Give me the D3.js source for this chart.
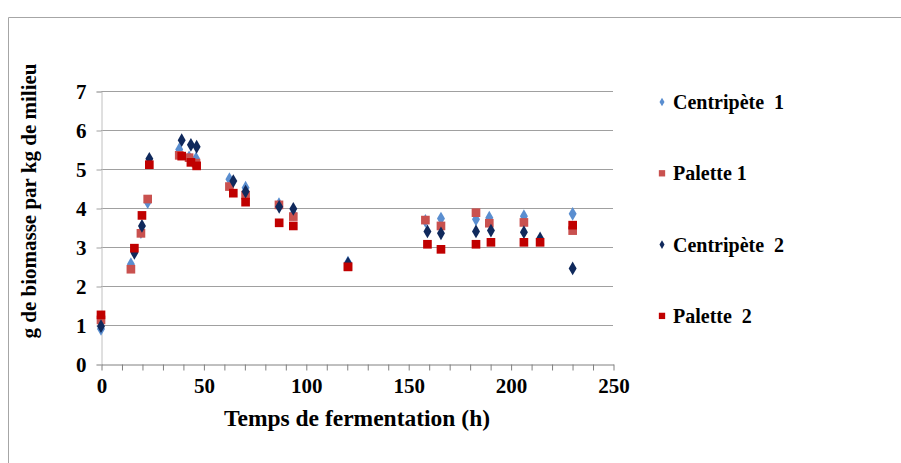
<!DOCTYPE html>
<html>
<head>
<meta charset="utf-8">
<script src="https://cdn.jsdelivr.net/npm/d3@7"></script>
<style>
  body { margin: 0; background: #fff; }
</style>
</head>
<body>
<svg id="chart" width="901" height="463"></svg>
<script>
var serif = "'Liberation Serif', 'DejaVu Serif', serif";

// sampling times (h) for the two runs
var timesRun1 = [0, 14.6, 19.5, 22.8, 38.2, 43, 46.4, 62.7, 70.6, 86.9, 93.9, 120.6, 158.4, 166, 183.1, 189.6, 206.5, 230.3];
var timesRun2 = [0, 16.3, 20, 23.6, 39.4, 43.9, 46.7, 64.6, 70.6, 87, 93.9, 120.6, 159.4, 166, 183.1, 190.4, 206.5, 214.4, 230.3];

var centripete1 = [0.9, 2.56, 3.38, 4.15, 5.5, 5.3, 5.27, 4.74, 4.52, 4.1, 3.85, 2.6, 3.67, 3.73, 3.71, 3.75, 3.79, 3.85];
var palette1    = [1.13, 2.43, 3.35, 4.23, 5.35, 5.29, 5.15, 4.55, 4.33, 4.08, 3.78, 2.5, 3.69, 3.54, 3.88, 3.61, 3.63, 3.42];
var centripete2 = [0.97, 2.85, 3.54, 5.26, 5.74, 5.62, 5.57, 4.69, 4.42, 4.03, 3.98, 2.58, 3.4, 3.35, 3.4, 3.42, 3.38, 3.22, 2.45];
var palette2    = [1.26, 2.97, 3.81, 5.11, 5.33, 5.17, 5.08, 4.38, 4.15, 3.62, 3.54, 2.49, 3.07, 2.94, 3.07, 3.12, 3.12, 3.12, 3.56];

var seriesNames = ["Centripète  1", "Palette 1", "Centripète  2", "Palette  2"];
var xTicks = [0, 50, 100, 150, 200, 250];
var yTicks = [0, 1, 2, 3, 4, 5, 6, 7];

var series = [
  {name: seriesNames[0], t: timesRun1, v: centripete1, color: "#5a8ed0", shape: "diamond"},
  {name: seriesNames[1], t: timesRun1, v: palette1,    color: "#c9514f", shape: "square"},
  {name: seriesNames[2], t: timesRun2, v: centripete2, color: "#10295c", shape: "diamond"},
  {name: seriesNames[3], t: timesRun2, v: palette2,    color: "#c00000", shape: "square"}
];

var svg = d3.select("#chart");

// outer frame
svg.append("path")
    .attr("d", "M8.5,463V17.5H901")
    .attr("fill", "none")
    .attr("stroke", "#a6a6a6");

var x = d3.scaleLinear().domain([0, 250]).range([101, 613]);
var y = d3.scaleLinear().domain([0, 7]).range([364, 91]);

// gridlines
svg.append("g")
  .selectAll("line")
  .data(yTicks.slice(1))
  .enter().append("line")
    .attr("x1", x(0)).attr("x2", x(250))
    .attr("y1", function(d) { return Math.round(y(d)) + 0.5; })
    .attr("y2", function(d) { return Math.round(y(d)) + 0.5; })
    .attr("stroke", "#a0a0a0");

// y axis
var yAxis = svg.append("g")
    .attr("transform", "translate(" + (x(0) + 0.5) + ",0.5)")
    .call(d3.axisLeft(y).tickValues(yTicks).tickSize(5).tickPadding(10).tickFormat(d3.format("d")));
yAxis.attr("font-family", serif).attr("font-weight", "bold").attr("font-size", 21);
yAxis.select(".domain").attr("stroke", "#c0c0c0");
yAxis.selectAll(".tick line").attr("stroke", "#a0a0a0");

// x axis
var xAxis = svg.append("g")
    .attr("transform", "translate(0.5," + (Math.round(y(0)) + 0.5) + ")")
    .call(d3.axisBottom(x).ticks(25).tickSize(6).tickPadding(8).tickSizeOuter(0).tickFormat(function(d) { return xTicks.indexOf(d) >= 0 ? d : ""; }));
xAxis.attr("font-family", serif).attr("font-weight", "bold").attr("font-size", 21);
xAxis.select(".domain").attr("stroke", "#808080");
xAxis.selectAll(".tick line").attr("stroke", "#808080");

var diamond = d3.symbol().type(d3.symbolDiamond).size(55);
var square = d3.symbol().type(d3.symbolSquare).size(75);

series.forEach(function(s) {
  svg.append("g")
    .selectAll("path")
    .data(s.v.map(function(v, i) { return {t: s.t[i], v: v}; }))
    .enter().append("path")
      .attr("transform", function(d) { return "translate(" + x(d.t) + "," + y(d.v) + ")"; })
      .attr("d", s.shape == "diamond" ? diamond : square)
      .attr("fill", s.color);
});

// legend
var legend = svg.append("g")
  .selectAll("g")
  .data(series)
  .enter().append("g")
    .attr("transform", function(d, i) { return "translate(662," + (102 + i * 71.3) + ")"; });

legend.append("path")
    .attr("d", function(d) { return d.shape == "diamond" ? d3.symbol().type(d3.symbolDiamond).size(22)() : d3.symbol().type(d3.symbolSquare).size(40)(); })
    .attr("fill", function(d) { return d.color; });

legend.append("text")
    .attr("x", 11)
    .attr("dy", "0.35em")
    .attr("font-family", serif)
    .attr("font-weight", "bold")
    .attr("font-size", 20)
    .style("white-space", "pre")
    .text(function(d) { return d.name; });

// axis titles
svg.append("text")
    .attr("x", 357)
    .attr("y", 426)
    .attr("text-anchor", "middle")
    .attr("font-family", serif)
    .attr("font-weight", "bold")
    .attr("font-size", 23.5)
    .text("Temps de fermentation (h)");

svg.append("text")
    .attr("transform", "translate(36,201) rotate(-90)")
    .attr("text-anchor", "middle")
    .attr("font-family", serif)
    .attr("font-weight", "bold")
    .attr("font-size", 21)
    .text("g de biomasse par kg de milieu");
</script>
</body>
</html>
